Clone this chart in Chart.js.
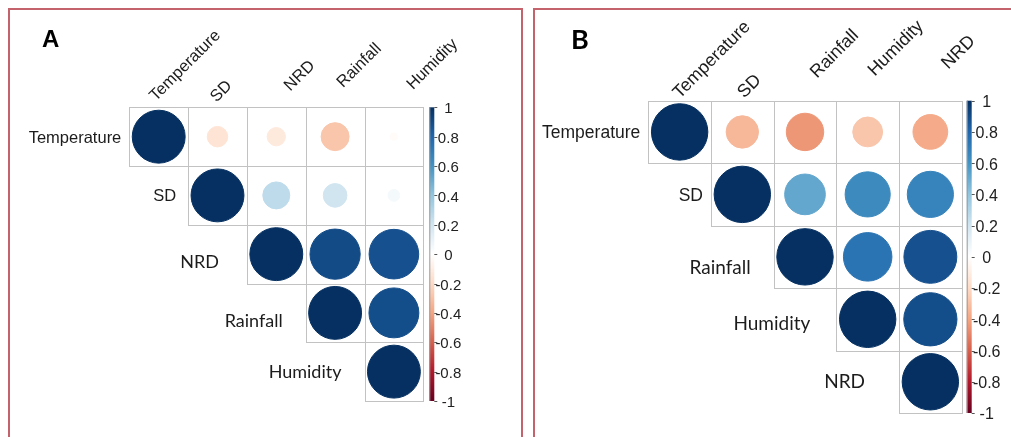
<!DOCTYPE html>
<html>
<head>
<meta charset="utf-8">
<script src="https://cdn.jsdelivr.net/npm/chart.js@4/dist/chart.umd.min.js"></script>
<style>
  html, body { margin: 0; padding: 0; background: #fff; }
  body { width: 1011px; height: 437px; position: relative; overflow: hidden; }
  .frame { position: absolute; border: 2px solid #c4636b; box-sizing: border-box; }
  #frameA { left: 8px; top: 8px; width: 515px; height: 460px; }
  #frameB { left: 533px; top: 8px; width: 500px; height: 460px; }
  canvas { position: absolute; top: 0; }
  #chartA { left: 0; }
  #chartB { left: 528px; }
</style>
</head>
<body>
<div class="frame" id="frameA"></div>
<div class="frame" id="frameB"></div>
<canvas id="chartA" width="528" height="437"></canvas>
<canvas id="chartB" width="483" height="437"></canvas>
<script>
// variables (rows/cols) for each panel
const varsA = ["Temperature", "SD", "NRD", "Rainfall", "Humidity"];
const varsB = ["Temperature", "SD", "Rainfall", "Humidity", "NRD"];

// upper triangle of the correlation matrix, row i starts at column i
const corrA = [
  [1, -0.15, -0.12, -0.28, -0.02],
  [1, 0.26, 0.2, 0.05],
  [1, 0.9, 0.88],
  [1, 0.89],
  [1]
];
const corrB = [
  [1, -0.33, -0.44, -0.28, -0.38],
  [1, 0.52, 0.64, 0.67],
  [1, 0.74, 0.88],
  [1, 0.89],
  [1]
];

const colorTicks = [1, 0.8, 0.6, 0.4, 0.2, 0, -0.2, -0.4, -0.6, -0.8, -1];

// RdBu ramp used by corrplot
const rampColors = ["#67001F", "#B2182B", "#D6604D", "#F4A582", "#FDDBC7", "#FFFFFF",
                    "#D1E5F0", "#92C5DE", "#4393C3", "#2166AC", "#053061"];

const hexToRgb = h => [1, 3, 5].map(i => parseInt(h.slice(i, i + 2), 16));
const rampRgb = rampColors.map(hexToRgb);

function corrColor(v) {
  const t = (v + 1) / 2 * (rampRgb.length - 1);
  const i = Math.min(rampRgb.length - 2, Math.max(0, Math.floor(t)));
  const f = t - i;
  const c = rampRgb[i].map((a, k) => Math.round(a + (rampRgb[i + 1][k] - a) * f));
  return `rgb(${c[0]},${c[1]},${c[2]})`;
}

function toPoints(corr) {
  const pts = [];
  corr.forEach((row, i) => row.forEach((v, k) => pts.push({ x: i + k, y: i, v })));
  return pts;
}

const ARIAL = '"Liberation Sans", Arial, sans-serif';
const CALIBRI = 'Lato, "Open Sans", sans-serif';

function makeDecor(p) {
  return {
    id: "corrDecor",
    beforeDatasetsDraw(chart) {
      const { ctx, scales: { x, y } } = chart;
      const n = p.vars.length;
      ctx.save();
      ctx.strokeStyle = "#c2c2c2";
      ctx.lineWidth = 1;
      for (let i = 0; i < n; i++) {
        for (let j = i; j < n; j++) {
          const x0 = Math.round(x.getPixelForValue(j - 0.5)) + 0.5;
          const x1 = Math.round(x.getPixelForValue(j + 0.5)) + 0.5;
          const y0 = Math.round(y.getPixelForValue(i - 0.5)) + 0.5;
          const y1 = Math.round(y.getPixelForValue(i + 0.5)) + 0.5;
          ctx.strokeRect(x0, y0, x1 - x0, y1 - y0);
        }
      }
      ctx.restore();
    },
    afterDraw(chart) {
      const { ctx, chartArea: area, scales: { x, y } } = chart;
      ctx.save();

      // panel letter
      ctx.fillStyle = "#000";
      ctx.font = p.letterFont;
      ctx.textBaseline = "alphabetic";
      ctx.textAlign = "left";
      ctx.fillText(p.letter, p.letterPos[0], p.letterPos[1]);

      // row labels
      p.vars.forEach((name, i) => {
        ctx.font = p.rowFonts[i];
        ctx.fillStyle = "#1c1c1c";
        ctx.textAlign = "right";
        ctx.textBaseline = "middle";
        ctx.fillText(name, x.getPixelForValue(i - 0.5) - p.rowGap[i], y.getPixelForValue(i) + p.rowDy[i]);
      });

      // column labels, rotated 45 degrees
      p.vars.forEach((name, j) => {
        ctx.save();
        ctx.translate(x.getPixelForValue(j) + p.colDx[j], area.top + p.colDy[j]);
        ctx.rotate(-Math.PI / 4);
        ctx.font = p.colFont;
        ctx.fillStyle = "#1c1c1c";
        ctx.textAlign = "left";
        ctx.textBaseline = "alphabetic";
        ctx.fillText(name, 0, 0);
        ctx.restore();
      });

      // colour legend
      const bx = area.right + p.barGap;
      const top = area.top, bottom = area.bottom;
      const grad = ctx.createLinearGradient(0, bottom, 0, top);
      rampColors.forEach((c, k) => grad.addColorStop(k / (rampColors.length - 1), c));
      ctx.fillStyle = grad;
      ctx.fillRect(bx, top, p.barWidth, bottom - top);
      ctx.strokeStyle = "#9a9a9a";
      ctx.lineWidth = 1;
      ctx.beginPath();
      ctx.moveTo(bx + 0.5, top);
      ctx.lineTo(bx + 0.5, bottom);
      ctx.stroke();

      ctx.font = p.tickFont;
      ctx.fillStyle = "#222";
      ctx.textAlign = "center";
      ctx.textBaseline = "middle";
      colorTicks.forEach(t => {
        const ty = top + (1 - t) / 2 * (bottom - top);
        ctx.beginPath();
        ctx.moveTo(bx + p.barWidth, Math.round(ty) + 0.5);
        ctx.lineTo(bx + p.barWidth + 3, Math.round(ty) + 0.5);
        ctx.strokeStyle = "#555";
        ctx.stroke();
        ctx.fillText(String(t), bx + p.barWidth + p.tickDx, ty + 2);
      });
      ctx.restore();
    }
  };
}

function buildChart(canvasId, vars, corr, padding, decor) {
  const n = vars.length;
  const radius = ctx => {
    const s = ctx.chart.scales.x;
    const cell = Math.abs(s.getPixelForValue(1) - s.getPixelForValue(0));
    return 0.45 * cell * Math.sqrt(Math.abs(ctx.raw.v));
  };
  return new Chart(document.getElementById(canvasId), {
    type: "scatter",
    data: {
      datasets: [{
        data: toPoints(corr),
        pointRadius: radius,
        pointHoverRadius: radius,
        backgroundColor: ctx => corrColor(ctx.raw.v),
        borderColor: ctx => corrColor(ctx.raw.v),
        borderWidth: 1
      }]
    },
    options: {
      responsive: false,
      animation: false,
      events: [],
      layout: { padding },
      plugins: { legend: { display: false }, tooltip: { enabled: false } },
      scales: {
        x: { type: "linear", min: -0.5, max: n - 0.5, display: false },
        y: { type: "linear", min: -0.5, max: n - 0.5, reverse: true, display: false }
      }
    },
    plugins: [makeDecor(Object.assign({ vars }, decor))]
  });
}

buildChart("chartA", varsA, corrA,
  { left: 129.3, top: 107.3, right: 104.7, bottom: 36 },
  {
    letter: "A", letterFont: `bold 24px ${ARIAL}`, letterPos: [42, 47],
    rowFonts: [`16.5px ${ARIAL}`, `16.5px ${ARIAL}`, `18px ${CALIBRI}`, `18px ${CALIBRI}`, `18px ${CALIBRI}`],
    rowGap: [8, 12, 28, 23, 23],
    rowDy: [1.5, 1.5, 8.5, 8.5, 1],
    colFont: `16.5px ${ARIAL}`,
    colDx: [-3, -1, 14, 8, 19],
    colDy: [-5.5, -4.5, -15.5, -19, -17],
    barGap: 6, barWidth: 5, tickDx: 14, tickFont: `15px ${ARIAL}`
  });

buildChart("chartB", varsB, corrB,
  { left: 120.3, top: 100.7, right: 49.3, bottom: 24 },
  {
    letter: "B", letterFont: `bold 27px ${CALIBRI}`, letterPos: [43, 49],
    rowFonts: [`17.5px ${ARIAL}`, `17.5px ${ARIAL}`, `19px ${CALIBRI}`, `19px ${CALIBRI}`, `19px ${CALIBRI}`],
    rowGap: [8, 8, 23, 26, 34],
    rowDy: [1.5, 2, 11, 4.5, 0],
    colFont: `18px ${ARIAL}`,
    colDx: [0, 2, 12, 7, 18],
    colDy: [-1.5, -2, -22, -24, -31],
    barGap: 5, barWidth: 5, tickDx: 15, tickFont: `16px ${ARIAL}`
  });
</script>
</body>
</html>
